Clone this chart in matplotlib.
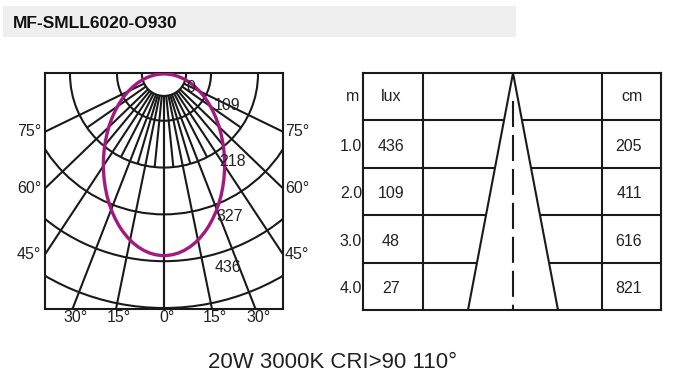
import numpy as np
import matplotlib
matplotlib.use("Agg")
import matplotlib.pyplot as plt
from matplotlib.patches import Circle, Ellipse, Rectangle

plt.rcParams['font.family'] = ['Liberation Sans', 'DejaVu Sans']

# polar diagram data
ring_values = [0, 109, 218, 327, 436]
ring_radii = [0.47, 1, 2, 3, 4, 5]
angle_labels = [0, 15, 30, 45, 60, 75]
grid_angles = [0, 11.5, 21.2, 33.3, 46, 64]      # drawn direction of each labelled ray
minor_angles = [5.7, 16.3, 27.3, 39.6, 55]        # short rays near the centre
beam_w, beam_h = 1.29, 1.94                        # half-axes of the intensity curve

# table data
dist_m = ['1.0', '2.0', '3.0', '4.0']
lux = [436, 109, 48, 27]
diam_cm = [205, 411, 616, 821]

title = 'MF-SMLL6020-O930'
footer = '20W 3000K CRI>90 110°'

W, H = 699, 381
INK = '#1a1a1a'
TXT = '#222222'
LW = 1.5

fig = plt.figure(figsize=(W / 100, H / 100), dpi=100)


def px_axes(x0, y0, x1, y1):
    return fig.add_axes([x0 / W, 1 - y1 / H, (x1 - x0) / W, (y1 - y0) / H])


# header band
fig.add_artist(Rectangle((3 / W, 1 - 37 / H), 513 / W, 31 / H,
                         transform=fig.transFigure, color='#efefef', lw=0))
fig.text(13 / W, 1 - 23 / H, title, fontsize=12.5, fontweight='bold', color='#111111',
         ha='left', va='center')

# ---- polar intensity diagram ----
ax = px_axes(45, 73, 283, 309)
unit = 47.0
ax.set_xlim(-119 / unit, 119 / unit)
ax.set_ylim(-236 / unit, 0.02)
ax.set_xticks([])
ax.set_yticks([])
for sp in ax.spines.values():
    sp.set_linewidth(LW)
    sp.set_color(INK)

for r in ring_radii:
    ax.add_patch(Circle((0, 0), r, fill=False, lw=LW, ec=INK))

r0 = ring_radii[0]
for a in grid_angles:
    t = np.radians(a)
    for s in (-1, 1):
        ax.plot([s * r0 * np.sin(t), s * 9 * np.sin(t)], [-r0 * np.cos(t), -9 * np.cos(t)],
                color=INK, lw=LW, solid_capstyle='butt')
for a in minor_angles:
    t = np.radians(a)
    for s in (-1, 1):
        ax.plot([s * r0 * np.sin(t), s * 2 * np.sin(t)], [-r0 * np.cos(t), -2 * np.cos(t)],
                color=INK, lw=LW, solid_capstyle='butt')

ax.add_patch(Ellipse((0, -beam_h), 2 * beam_w, 2 * beam_h, fill=False,
                     ec='#a3197f', lw=2.4, zorder=5))

# ring value labels
lab_pos = [(0.57, -0.30), (1.34, -0.68), (1.45, -1.87), (1.40, -3.04), (1.36, -4.13)]
for v, (x, y) in zip(ring_values, lab_pos):
    ax.text(x, y, str(v), fontsize=11.5, color=TXT, ha='center', va='center', zorder=6)

# angle labels at the points where rays leave the box
xmax = 119 / unit
ybot = -236 / unit
for lab, a in zip(angle_labels, grid_angles):
    t = np.radians(a)
    if np.tan(t) * -ybot <= xmax + 1e-6:
        xe = -ybot * np.tan(t)
        for s in ((-1, 1) if a else (1,)):
            ax.text(s * xe + 0.06, ybot - 0.03, f'{lab}°', fontsize=11.5, color=TXT,
                    ha='center', va='top', clip_on=False)
    else:
        ye = -xmax / np.tan(t)
        ax.text(-xmax - 0.08, ye, f'{lab}°', fontsize=11.5, color=TXT,
                ha='right', va='center', clip_on=False)
        ax.text(xmax + 0.04, ye, f'{lab}°', fontsize=11.5, color=TXT,
                ha='left', va='center', clip_on=False)

# ---- distance / lux / diameter table ----
tb = px_axes(363, 73, 661, 310)
tb.set_xlim(0, 298)
tb.set_ylim(5, 0)
tb.set_xticks([])
tb.set_yticks([])
for sp in tb.spines.values():
    sp.set_linewidth(LW)
    sp.set_color(INK)

apex, spread = 150, 9.0
col1, col2 = 60, 239
tb.plot([col1, col1], [0, 5], color=INK, lw=LW)
tb.plot([col2, col2], [0, 5], color=INK, lw=LW)
for i in range(1, len(dist_m) + 1):
    tb.plot([0, apex - spread * i], [i, i], color=INK, lw=LW, solid_capstyle='butt')
    tb.plot([apex + spread * i, 298], [i, i], color=INK, lw=LW, solid_capstyle='butt')
tb.plot([apex - spread * 5, apex, apex + spread * 5], [5, 0, 5], color=INK, lw=LW)
tb.plot([apex, apex], [0.6, 5], color=INK, lw=LW, dashes=(12.5, 3.8))

tb.text(28, 0.5, 'lux', fontsize=11.5, color=TXT, ha='center', va='center')
tb.text(269, 0.49, 'cm', fontsize=11.5, color=TXT, ha='center', va='center')
tb.text(-10, 0.5, 'm', fontsize=11.5, color=TXT, ha='center', va='center', clip_on=False)
for i, (d, l, c) in enumerate(zip(dist_m, lux, diam_cm)):
    y = i + 1.55
    tb.text(-1, y, d, fontsize=11.5, color=TXT, ha='right', va='center', clip_on=False)
    tb.text(28, y, str(l), fontsize=11.5, color=TXT, ha='center', va='center')
    tb.text(266, y, str(c), fontsize=11.5, color=TXT, ha='center', va='center')

fig.text(333 / W, 1 - 362 / H, footer, fontsize=16, color=TXT, ha='center', va='center')

fig.savefig('out.png', dpi=100)
